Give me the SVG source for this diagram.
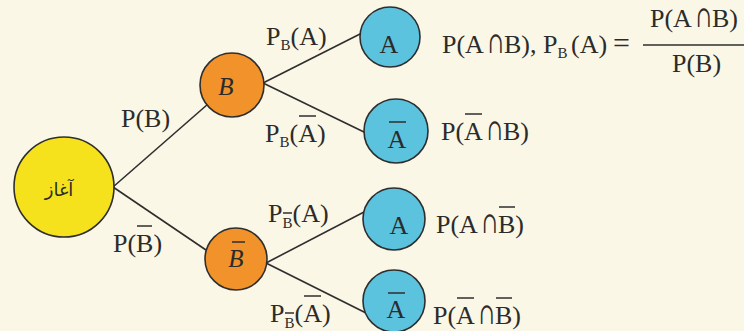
<svg xmlns="http://www.w3.org/2000/svg" width="744" height="331" viewBox="0 0 744 331">
<defs>
<style>
.bg{fill:#FBF7E6}
.edge{stroke:#2e2e2e;stroke-width:1.6;fill:none}
.bar{stroke:#2e2e2e;stroke-width:1.5}
.start{fill:#F6E21C;stroke:#2e2e2e;stroke-width:1.6}
.mid{fill:#F2922A;stroke:#2e2e2e;stroke-width:1.6}
.leaf{fill:#5CC3DF;stroke:#2e2e2e;stroke-width:1.6}
.t{font-family:"Liberation Serif","Times New Roman",serif;font-size:26px;fill:#2b2b2b}
.ti{font-family:"Liberation Serif","Times New Roman",serif;font-size:25px;font-style:italic;fill:#2b2b2b}
.sub{font-size:15px}
.cap{font-family:"DejaVu Serif","DejaVu Sans",serif;font-size:30px;fill:#2b2b2b}
.fa{font-family:"DejaVu Sans","Noto Sans",sans-serif;font-size:18px;fill:#2b2b2b}
</style>
</defs>
<rect class="bg" x="0" y="0" width="744" height="331"/>

<g id="connectors">
<line class="edge" x1="113" y1="187" x2="208" y2="104"/>
<line class="edge" x1="113" y1="187" x2="206" y2="250"/>
<line class="edge" x1="263" y1="83" x2="362" y2="33"/>
<line class="edge" x1="263" y1="83" x2="366" y2="133"/>
<line class="edge" x1="266" y1="263" x2="364" y2="212"/>
<line class="edge" x1="266" y1="263" x2="366" y2="313"/>
</g>

<g id="edge-labels">
<text class="t" x="121" y="127">P(B)</text>
<text class="t" x="113" y="252">P(B)</text>
<line class="bar" x1="137" y1="226" x2="152" y2="226"/>
<text class="t" x="266" y="45">P<tspan class="sub" dy="5">B</tspan><tspan dy="-5">(A)</tspan></text>
<text class="t" x="265" y="142">P<tspan class="sub" dy="5">B</tspan><tspan dy="-5">(A)</tspan></text>
<line class="bar" x1="299" y1="116" x2="316" y2="116"/>
<text class="t" x="268" y="222">P<tspan class="sub" dy="6">B</tspan><tspan dy="-6">(A)</tspan></text>
<line class="bar" x1="283" y1="213" x2="292" y2="213"/>
<text class="t" x="270" y="322">P<tspan class="sub" dy="6">B</tspan><tspan dy="-6">(A)</tspan></text>
<line class="bar" x1="285" y1="313" x2="294" y2="313"/>
<line class="bar" x1="304" y1="296" x2="321" y2="296"/>
</g>

<g id="node-start">
<circle class="start" cx="64" cy="187" r="50"/>
<text class="fa" x="59" y="196" text-anchor="middle">آغاز</text>
</g>

<g id="node-B">
<circle class="mid" cx="232" cy="85" r="32"/>
<text class="ti" x="226" y="95" text-anchor="middle">B</text>
</g>

<g id="node-Bbar">
<circle class="mid" cx="236" cy="259" r="31"/>
<text class="ti" x="236" y="267" text-anchor="middle">B</text>
<line class="bar" x1="232" y1="242" x2="245" y2="242"/>
</g>

<g id="node-A1">
<circle class="leaf" cx="390" cy="37" r="30"/>
<text class="t" x="389" y="53" text-anchor="middle">A</text>
</g>

<g id="node-Abar1">
<circle class="leaf" cx="396" cy="131" r="32"/>
<text class="t" x="397" y="148" text-anchor="middle">A</text>
<line class="bar" x1="389" y1="122" x2="406" y2="122"/>
</g>

<g id="node-A2">
<circle class="leaf" cx="394" cy="219" r="31"/>
<text class="t" x="399" y="234" text-anchor="middle">A</text>
</g>

<g id="node-Abar2">
<circle class="leaf" cx="394" cy="301" r="31"/>
<text class="t" x="396" y="318" text-anchor="middle">A</text>
<line class="bar" x1="388" y1="293" x2="405" y2="293"/>
</g>

<g id="formulas">
<text class="t" y="53"><tspan x="442">P(A</tspan><tspan x="504">B),</tspan><tspan x="543">P</tspan><tspan class="sub" dy="5">B</tspan><tspan x="571" dy="-5">(A)</tspan><tspan x="613" style="font-size:30px">=</tspan></text>
<text class="cap" transform="translate(488,53) scale(0.62,1)">∩</text>
<line class="bar" x1="643" y1="45" x2="744" y2="45"/>
<text class="t" y="27"><tspan x="650">P(A</tspan><tspan x="712">B)</tspan></text>
<text class="cap" transform="translate(696,27) scale(0.62,1)">∩</text>
<text class="t" x="672" y="72">P(B)</text>

<text class="t" y="140"><tspan x="441">P(A</tspan><tspan x="503">B)</tspan></text>
<text class="cap" transform="translate(487,140) scale(0.62,1)">∩</text>
<line class="bar" x1="465" y1="114" x2="482" y2="114"/>

<text class="t" y="233"><tspan x="436">P(A</tspan><tspan x="498">B)</tspan></text>
<text class="cap" transform="translate(482,233) scale(0.62,1)">∩</text>
<line class="bar" x1="499" y1="207" x2="515" y2="207"/>

<text class="t" y="324"><tspan x="433">P(A</tspan><tspan x="495">B)</tspan></text>
<text class="cap" transform="translate(479,324) scale(0.62,1)">∩</text>
<line class="bar" x1="457" y1="298" x2="474" y2="298"/>
<line class="bar" x1="496" y1="298" x2="512" y2="298"/>
</g>
</svg>
